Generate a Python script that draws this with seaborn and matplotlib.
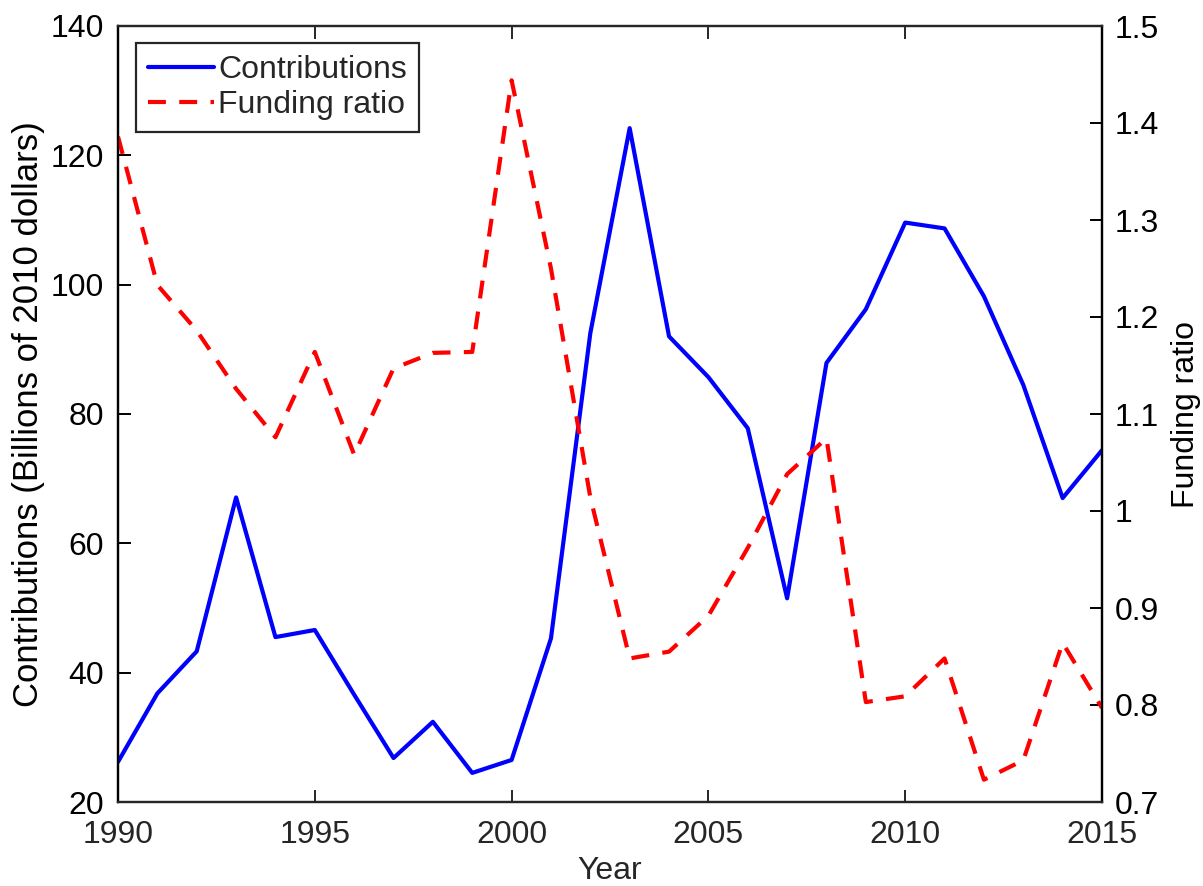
import matplotlib
matplotlib.use("Agg")
import matplotlib.pyplot as plt
import seaborn as sns
import pandas as pd

# Annual data, 1990-2015
years = list(range(1990, 2016))
contributions = [26.2, 36.8, 43.3, 67.1, 45.5, 46.6, 36.6, 26.8, 32.4, 24.5,
                 26.5, 45.3, 92.5, 124.2, 92.0, 85.7, 77.8, 51.5, 87.9, 96.2,
                 109.6, 108.7, 98.2, 84.5, 67.0, 74.4]
funding_ratio = [1.386, 1.233, 1.186, 1.126, 1.076, 1.164, 1.058, 1.147, 1.163, 1.164,
                 1.444, 1.250, 1.014, 0.848, 0.855, 0.892, 0.962, 1.038, 1.075, 0.803,
                 0.809, 0.848, 0.723, 0.743, 0.864, 0.797]

x_ticks = [1990, 1995, 2000, 2005, 2010, 2015]
left_ticks = [20, 40, 60, 80, 100, 120, 140]
right_ticks = [0.7, 0.8, 0.9, 1.0, 1.1, 1.2, 1.3, 1.4, 1.5]
right_tick_labels = ["0.7", "0.8", "0.9", "1", "1.1", "1.2", "1.3", "1.4", "1.5"]

df = pd.DataFrame({"Year": years, "Contributions": contributions,
                   "Funding ratio": funding_ratio})

sns.set_style("white")
plt.rcParams["font.family"] = ["Liberation Sans", "DejaVu Sans"]
FS = 23
AXIS_GRAY = "#262626"

fig = plt.figure(figsize=(12.03, 8.86), dpi=100)
ax = fig.add_axes([118 / 1203, 1 - 802 / 886, 984 / 1203, 776 / 886])
ax2 = ax.twinx()

sns.lineplot(data=df, x="Year", y="Contributions", ax=ax, color=(0, 0, 1),
             linewidth=3.0, legend=False)
sns.lineplot(data=df, x="Year", y="Funding ratio", ax=ax2, color=(1, 0, 0),
             linewidth=3.0, legend=False)
line_c = ax.get_lines()[-1]
line_f = ax2.get_lines()[-1]
line_f.set_dashes((4.3, 3.2))
line_f.set_dash_capstyle("butt")

ax.set_xlim(1990, 2015)
ax.set_ylim(20, 140)
ax2.set_ylim(0.7, 1.5)

ax.set_xticks(x_ticks)
ax.set_yticks(left_ticks)
ax2.set_yticks(right_ticks)
ax2.set_yticklabels(right_tick_labels)

for a in (ax, ax2):
    for s in a.spines.values():
        s.set_linewidth(1.6)
        s.set_visible(True)
    a.spines["top"].set_color(AXIS_GRAY)
    a.spines["bottom"].set_color(AXIS_GRAY)
    a.spines["left"].set_color("black")
    a.spines["right"].set_color("black")

ax.tick_params(axis="x", which="both", direction="in", length=9, width=1.4,
               top=True, bottom=True, labelsize=FS, labelcolor=AXIS_GRAY,
               color=AXIS_GRAY, pad=13)
ax.tick_params(axis="y", direction="in", length=9, width=1.4, left=True,
               right=False, labelsize=FS, labelcolor="black", color="black", pad=10)
ax2.tick_params(axis="y", direction="in", length=9, width=1.4, right=True,
                left=False, labelsize=FS, labelcolor="black", color="black", pad=9)

ax.set_xlabel("Year", fontsize=FS, color=AXIS_GRAY)
ax.set_ylabel("Contributions (Billions of 2010 dollars)", fontsize=25, color="black")
ax2.set_ylabel("Funding ratio", fontsize=FS, color="black")
ax.xaxis.set_label_coords(0.5, -0.069)
ax.yaxis.set_label_coords(-0.074, 0.5)
ax2.yaxis.set_label_coords(1.070, 0.5)

leg = ax2.legend([line_c, line_f], ["Contributions", "Funding ratio"],
                 loc="upper left", bbox_to_anchor=(0.0183, 0.978),
                 borderaxespad=0, fontsize=FS, frameon=True, fancybox=False,
                 handlelength=2.05, handletextpad=0.15, borderpad=0.38,
                 labelspacing=0.15)
frame = leg.get_frame()
frame.set_edgecolor(AXIS_GRAY)
frame.set_linewidth(1.6)
frame.set_facecolor("white")
frame.set_alpha(1)

fig.savefig("out.png", dpi=100)
